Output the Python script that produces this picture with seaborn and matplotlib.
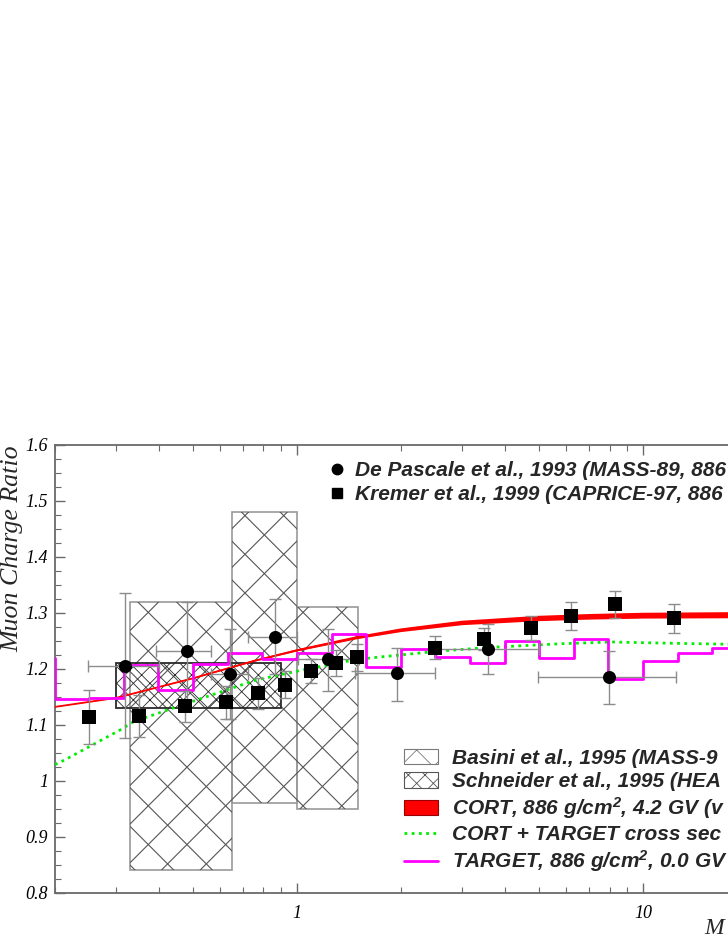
import numpy as np
import matplotlib
matplotlib.use("Agg")
import matplotlib.pyplot as plt
import matplotlib.ticker as mticker
from matplotlib.patches import Patch
from matplotlib.lines import Line2D
from matplotlib.collections import LineCollection
from matplotlib.transforms import IdentityTransform
import seaborn as sns

sns.set_theme(style="ticks")
plt.rcParams['font.family'] = ['Liberation Serif', 'DejaVu Serif']
plt.rcParams['font.style'] = 'italic'
plt.rcParams['hatch.linewidth'] = 0.6
# superscripts in the legend use the same bold italic sans font
plt.rcParams['mathtext.fontset'] = 'custom'
plt.rcParams['mathtext.rm'] = 'Liberation Sans:italic:bold'
plt.rcParams['mathtext.it'] = 'Liberation Sans:italic:bold'
plt.rcParams['mathtext.bf'] = 'Liberation Sans:italic:bold'

# De Pascale et al., 1993 (MASS-89) - circles
pascale_p = [0.319, 0.481, 0.642, 0.865, 1.228, 1.944, 3.56, 7.98]
pascale_r = [1.205, 1.232, 1.191, 1.257, 1.217, 1.192, 1.236, 1.185]
pascale_err_lo = [0.128, 0.088, 0.080, 0.067, 0.057, 0.050, 0.046, 0.048]
pascale_err_hi = [0.131, 0.088, 0.081, 0.067, 0.055, 0.046, 0.045, 0.047]
pascale_pmin = [0.249, 0.391, 0.565, 0.724, 1.01, 1.47, 2.54, 4.98]
pascale_pmax = [0.400, 0.565, 0.724, 0.998, 1.51, 2.51, 5.00, 12.46]

# Kremer et al., 1999 (CAPRICE-97) - squares
kremer_p = [0.250, 0.350, 0.474, 0.624, 0.774, 0.925, 1.097, 1.298, 1.495,
            2.50, 3.48, 4.75, 6.19, 8.31, 12.25]
kremer_r = [1.114, 1.116, 1.133, 1.140, 1.156, 1.172, 1.196, 1.211, 1.221,
            1.238, 1.253, 1.273, 1.294, 1.315, 1.290]
kremer_err = [0.048, 0.037, 0.028, 0.030, 0.027, 0.024, 0.021, 0.023, 0.024,
              0.020, 0.020, 0.021, 0.025, 0.024, 0.026]

# Basini et al., 1995 (MASS-91) - boxes
basini_pmin = [0.33, 0.65, 1.0]
basini_pmax = [0.65, 1.0, 1.5]
basini_rmin = [0.84, 0.96, 0.95]
basini_rmax = [1.32, 1.48, 1.31]

# Schneider et al., 1995 (HEAT) - box
schneider_pmin = [0.30]
schneider_pmax = [0.90]
schneider_rmin = [1.13]
schneider_rmax = [1.21]

# CORT band
cort_p = [0.2, 0.3, 0.5, 0.75, 1.0, 1.5, 2, 3, 5, 7, 10, 20, 50]
cort_r = [1.132, 1.148, 1.183, 1.214, 1.233, 1.256, 1.269, 1.282, 1.290,
          1.293, 1.295, 1.296, 1.297]
cort_halfwidth = [0.0005, 0.0007, 0.001, 0.0015, 0.002, 0.0028, 0.0033, 0.004,
                  0.0048, 0.005, 0.0052, 0.0055, 0.0055]

# CORT + TARGET cross sections
mix_p = [0.2, 0.213, 0.311, 0.336, 0.448, 0.762, 1.04, 1.49, 2.08, 2.6,
         3.78, 5.86, 8.16, 11.4, 17.5, 20]
mix_r = [1.029, 1.037, 1.092, 1.105, 1.132, 1.180, 1.198, 1.217, 1.226, 1.232,
         1.239, 1.245, 1.248, 1.246, 1.244, 1.244]

# TARGET histogram (bins of 0.1 in log10 p)
target_edges = [0.158, 0.1995, 0.251, 0.316, 0.398, 0.501, 0.631, 0.794, 1.0,
                1.259, 1.585, 1.995, 2.512, 3.162, 3.981, 5.012, 6.310, 7.943,
                10.0, 12.59, 15.85, 19.95]
target_r = [1.219, 1.146, 1.148, 1.207, 1.163, 1.208, 1.229, 1.217, 1.229,
            1.262, 1.204, 1.235, 1.222, 1.210, 1.250, 1.219, 1.253, 1.182,
            1.214, 1.229, 1.238]

GRID_GREY = '#6a6a6a'
ERR_GREY = '#8c8c8c'


def sparse_cross_hatch(ax, patches, step=38.7, color='#555555', lw=0.8):
    """Wide diagonal cross hatch (in pixels), clipped to each box."""
    w, h = ax.figure.bbox.width, ax.figure.bbox.height
    ne = np.arange(25.3 - h, w + h, step)
    se = np.arange(12.5, w + 2 * h, step)
    segs = [[(c, 0), (c + h, h)] for c in ne] + [[(c, 0), (c - h, h)] for c in se]
    for patch in patches:
        lc = LineCollection(segs, colors=color, linewidths=lw,
                            transform=IdentityTransform(), zorder=1)
        ax.add_collection(lc, autolim=False)
        lc.set_clip_path(patch)


fig = plt.figure(figsize=(7.28, 9.41), dpi=100)
# axes run past the right edge of the picture, like the cropped original
ax = fig.add_axes([55 / 728, 1 - 892.7 / 941, 830 / 728, 447.7 / 941])
ax.set_xscale('log')
ax.set_xlim(0.2, 50)
ax.set_ylim(0.8, 1.6)

# boxes
basini = ax.bar(basini_pmin, np.subtract(basini_rmax, basini_rmin), bottom=basini_rmin,
                width=np.subtract(basini_pmax, basini_pmin), align='edge',
                facecolor='none', edgecolor='#9a9a9a', linewidth=1.2, zorder=1)
sparse_cross_hatch(ax, basini.patches)
ax.bar(schneider_pmin, np.subtract(schneider_rmax, schneider_rmin), bottom=schneider_rmin,
       width=np.subtract(schneider_pmax, schneider_pmin), align='edge',
       facecolor='none', edgecolor='#2a2a2a', hatch='xx', linewidth=1.3, zorder=2)

# model curves
ax.fill_between(cort_p, np.subtract(cort_r, cort_halfwidth), np.add(cort_r, cort_halfwidth),
                color='red', linewidth=0, zorder=3)
sns.lineplot(x=cort_p, y=cort_r, color='red', linewidth=1.3, estimator=None,
             sort=False, ax=ax, zorder=3)
sns.lineplot(x=mix_p, y=mix_r, color='#00ee00', linewidth=2.0, linestyle=(0, (1, 1.6)),
             estimator=None, sort=False, ax=ax, zorder=3)
sns.lineplot(x=target_edges, y=target_r + [target_r[-1]], color='#ff00ff', linewidth=2.0,
             drawstyle='steps-post', estimator=None, sort=False, ax=ax, zorder=4)

# data points
ax.errorbar(pascale_p, pascale_r, yerr=[pascale_err_lo, pascale_err_hi],
            xerr=[np.subtract(pascale_p, pascale_pmin), np.subtract(pascale_pmax, pascale_p)],
            fmt='none', ecolor=ERR_GREY, elinewidth=1.0, capsize=4.5, capthick=1.0, zorder=5)
ax.errorbar(kremer_p, kremer_r, yerr=kremer_err, fmt='none', ecolor=ERR_GREY,
            elinewidth=1.0, capsize=4.5, capthick=1.0, zorder=5)
sns.scatterplot(x=pascale_p, y=pascale_r, marker='o', s=88, color='black',
                linewidth=0, ax=ax, zorder=6)
sns.scatterplot(x=kremer_p, y=kremer_r, marker='s', s=88, color='black',
                linewidth=0, ax=ax, zorder=6)

# axes styling
for s in ax.spines.values():
    s.set_color(GRID_GREY)
    s.set_linewidth(1.3)
ax.tick_params(which='both', direction='in', top=True, right=True,
               color=GRID_GREY, labelcolor='black', labelsize=13)
ax.tick_params(which='major', length=7.2, width=1.0)
ax.tick_params(which='minor', length=4.0, width=0.8)
ax.tick_params(axis='x', pad=9)
ax.tick_params(axis='y', pad=5)
ax.yaxis.set_major_locator(mticker.MultipleLocator(0.1))
ax.yaxis.set_minor_locator(mticker.MultipleLocator(0.025))
ax.yaxis.set_major_formatter(mticker.FuncFormatter(lambda v, p: f"{v:g}"))
ax.xaxis.set_major_locator(mticker.LogLocator(base=10))
ax.xaxis.set_minor_locator(mticker.LogLocator(base=10, subs=np.arange(2, 10)))
ax.xaxis.set_major_formatter(mticker.FuncFormatter(lambda v, p: f"{v:g}"))
ax.xaxis.set_minor_formatter(mticker.NullFormatter())
ax.grid(False)

fig.text(12 / 728, 1 - 445 / 941, 'Muon Charge Ratio', rotation=90, ha='center',
         va='top', fontsize=18.6)
# only the first letter of the x title is inside the cropped picture
fig.text(704 / 728, 1 - 939 / 941, 'M', ha='left', va='bottom', fontsize=17)

leg_font = {'family': 'Liberation Sans', 'weight': 'bold', 'style': 'italic', 'size': 15}

top_handles = [
    Line2D([], [], marker='o', linestyle='none', color='black', markersize=7.5),
    Line2D([], [], marker='s', linestyle='none', color='black', markersize=7.5),
]
top_labels = ['De Pascale et al., 1993 (MASS-89, 886',
              'Kremer et al., 1999 (CAPRICE-97, 886']
fig.legend(top_handles, top_labels, loc='upper left',
           bbox_to_anchor=(326.6 / 728, 1 - 461 / 941), frameon=False, prop=leg_font,
           borderpad=0, borderaxespad=0, handlelength=1.0, handletextpad=0.37,
           labelspacing=0.25)

bottom_handles = [
    Patch(facecolor='white', edgecolor='#7a7a7a', hatch='x', linewidth=0.8),
    Patch(facecolor='white', edgecolor='#555555', hatch='xx', linewidth=0.8),
    Patch(facecolor='red', edgecolor='#990000', linewidth=0.8),
    Line2D([], [], color='#00ee00', linewidth=2.0, linestyle=(0, (1, 1.6))),
    Line2D([], [], color='#ff00ff', linewidth=2.0),
]
bottom_labels = ['Basini et al., 1995 (MASS-9',
                 'Schneider et al., 1995 (HEA',
                 'CORT, 886 g/cm$^2$, 4.2 GV (v',
                 'CORT + TARGET cross sec',
                 'TARGET, 886 g/cm$^2$, 0.0 GV']
fig.legend(bottom_handles, bottom_labels, loc='upper left',
           bbox_to_anchor=(404 / 728, 1 - 749 / 941), frameon=False, prop=leg_font,
           borderpad=0, borderaxespad=0, handlelength=1.62, handleheight=0.75,
           handletextpad=0.67, labelspacing=0.2)

fig.savefig('out.png', dpi=100)
